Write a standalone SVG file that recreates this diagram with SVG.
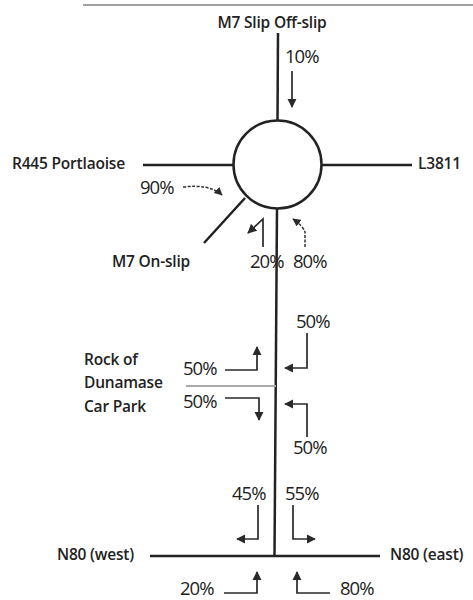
<svg xmlns="http://www.w3.org/2000/svg" width="473" height="600" viewBox="0 0 473 600">
<style>
.road{stroke:#222;stroke-width:2.5;fill:none}
.arr{stroke:#2a2a2a;stroke-width:1.7;fill:none;marker-end:url(#ah)}
.dash{stroke:#333;stroke-width:1.5;fill:none;stroke-dasharray:3 1.5;marker-end:url(#ah)}
.lbl{font-family:"Open Sans","Liberation Sans",sans-serif;font-size:15.5px;font-weight:600;fill:#222;letter-spacing:-0.2px}
.pct{font-family:"Open Sans","Liberation Sans",sans-serif;font-size:18.5px;fill:#222;letter-spacing:-1px}
</style>
<defs>
<marker id="ah" viewBox="0 0 10 10" refX="9" refY="5" markerWidth="5.5" markerHeight="5.5" orient="auto" markerUnits="strokeWidth">
<path d="M0,0 L10,5 L0,10 z" fill="#2a2a2a"/>
</marker>
</defs>
<rect width="473" height="600" fill="#fff"/>
<line x1="83" y1="5" x2="473" y2="5" stroke="#444" stroke-width="1.2"/>

<g id="connectors">
<line class="road" x1="278" y1="33" x2="277.5" y2="121"/>
<line class="road" x1="143" y1="165" x2="233" y2="165"/>
<line class="road" x1="321" y1="165" x2="412" y2="165"/>
<line class="road" x1="245" y1="198" x2="204" y2="243"/>
<line class="road" x1="277" y1="208" x2="274.5" y2="556"/>
<line x1="186" y1="386" x2="276" y2="386" stroke="#aaa" stroke-width="2"/>
<line class="road" x1="150" y1="556" x2="380" y2="556"/>
</g>

<g id="roundabout">
<circle cx="277.5" cy="164.5" r="44" fill="#fff" stroke="#222" stroke-width="2.5"/>
</g>

<g id="m7-offslip">
<text class="lbl" x="272" y="28" text-anchor="middle">M7 Slip Off-slip</text>
<text class="pct" x="285" y="63">10%</text>
<path class="arr" d="M292,71 L292,107"/>
</g>

<g id="r445">
<text class="lbl" x="12" y="169">R445 Portlaoise</text>
<text class="pct" x="140" y="194">90%</text>
<path class="dash" d="M183,187 Q210,184 222,195"/>
</g>

<g id="l3811">
<text class="lbl" x="418" y="169">L3811</text>
</g>

<g id="m7-onslip">
<text class="lbl" x="112" y="267">M7 On-slip</text>
</g>

<g id="south-arm">
<text class="pct" x="250" y="268">20%</text>
<path class="arr" d="M263,247 L263,219 L248,233"/>
<text class="pct" x="293" y="268">80%</text>
<path class="dash" d="M305,247 L305,232 Q303,226 293,219"/>
</g>

<g id="car-park">
<text class="lbl" x="84" y="365">Rock of</text>
<text class="lbl" x="84" y="388">Dunamase</text>
<text class="lbl" x="84" y="412">Car Park</text>
<text class="pct" x="183" y="375">50%</text>
<path class="arr" d="M225,370 L257,370 L257,347"/>
<text class="pct" x="183" y="408">50%</text>
<path class="arr" d="M225,398 L259,398 L259,420"/>
<text class="pct" x="296" y="328">50%</text>
<path class="arr" d="M307,333 L307,368 L285,368"/>
<text class="pct" x="293" y="454">50%</text>
<path class="arr" d="M307,437 L307,404 L285,404"/>
</g>

<g id="n80">
<text class="pct" x="232" y="500">45%</text>
<path class="arr" d="M258,505 L258,539 L237,539"/>
<text class="pct" x="285" y="500">55%</text>
<path class="arr" d="M293,505 L293,539 L315,539"/>
<text class="lbl" x="57" y="560">N80 (west)</text>
<text class="lbl" x="390" y="560">N80 (east)</text>
<text class="pct" x="180" y="595">20%</text>
<path class="arr" d="M224,593 L257,593 L257,572"/>
<text class="pct" x="340" y="595">80%</text>
<path class="arr" d="M330,593 L297,593 L297,572"/>
</g>
</svg>
